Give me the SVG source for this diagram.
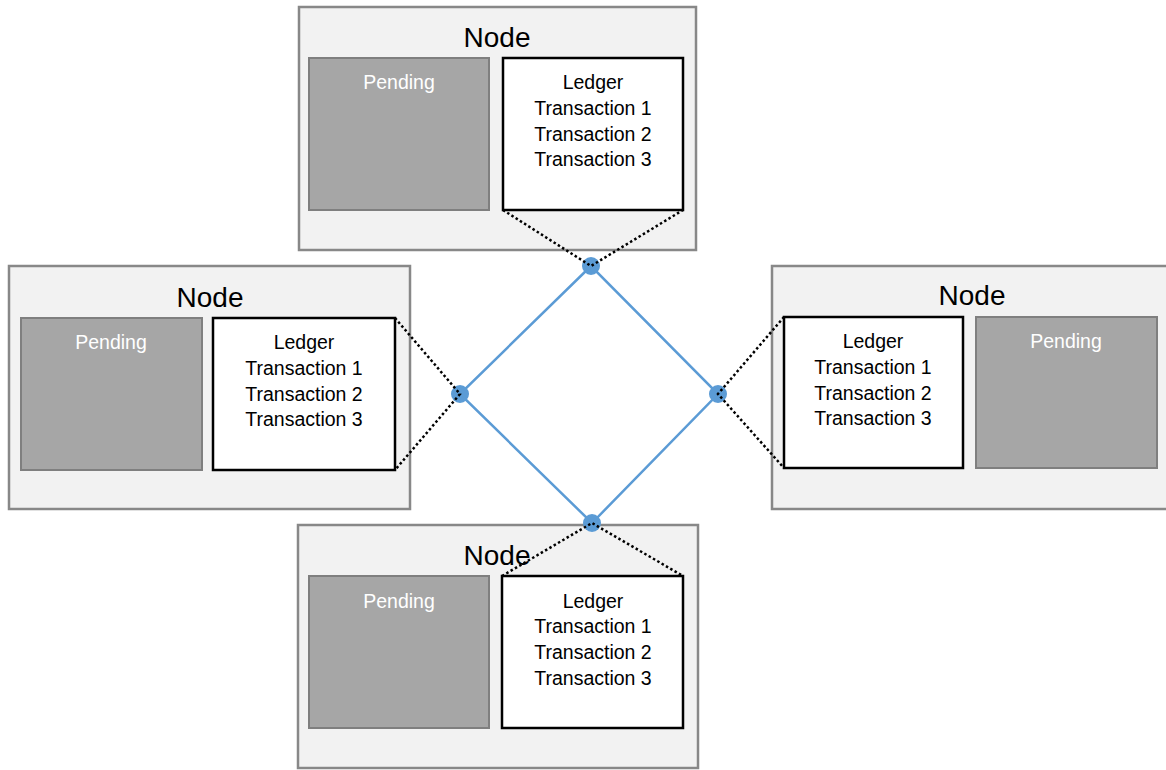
<svg xmlns="http://www.w3.org/2000/svg" width="1166" height="770" viewBox="0 0 1166 770">
<style>
.outer{fill:#F2F2F2;stroke:#888888;stroke-width:2.5}
.pend{fill:#A6A6A6;stroke:#7F7F7F;stroke-width:2}
.ledger{fill:#FFFFFF;stroke:#000000;stroke-width:2.5}
.title{font-family:"Liberation Sans",Arial,sans-serif;font-size:28px;fill:#000;text-anchor:middle}
.pt{font-family:"Liberation Sans",Arial,sans-serif;font-size:19.5px;fill:#FFFFFF;text-anchor:middle}
.lt{font-family:"Liberation Sans",Arial,sans-serif;font-size:19.5px;fill:#000;text-anchor:middle}
.net{stroke:#5B9BD5;stroke-width:2.5;fill:none}
.hub{fill:#5B9BD5}
.dot{stroke:#000;stroke-width:2.5;stroke-dasharray:2.5 2.5;fill:none}
</style>
<rect width="1166" height="770" fill="#FFFFFF"/>
<g id="node-top">
<rect class="outer" x="299" y="7" width="397" height="243"/>
<text class="title" x="497" y="47">Node</text>
<rect class="pend" x="309" y="58" width="180" height="152"/>
<text class="pt" x="399" y="89">Pending</text>
<rect class="ledger" x="503" y="58" width="180" height="152"/>
<text class="lt" x="593" y="89">Ledger</text>
<text class="lt" x="593" y="115">Transaction 1</text>
<text class="lt" x="593" y="141">Transaction 2</text>
<text class="lt" x="593" y="166">Transaction 3</text>
</g>
<g id="node-left">
<rect class="outer" x="9" y="266" width="401" height="243"/>
<text class="title" x="210" y="307">Node</text>
<rect class="pend" x="21" y="318" width="181" height="152"/>
<text class="pt" x="111" y="349">Pending</text>
<rect class="ledger" x="213" y="318" width="182" height="152"/>
<text class="lt" x="304" y="349">Ledger</text>
<text class="lt" x="304" y="375">Transaction 1</text>
<text class="lt" x="304" y="401">Transaction 2</text>
<text class="lt" x="304" y="426">Transaction 3</text>
</g>
<g id="node-right">
<rect class="outer" x="772" y="266" width="400" height="243"/>
<text class="title" x="972" y="305">Node</text>
<rect class="ledger" x="784" y="317" width="179" height="151"/>
<text class="lt" x="873" y="348">Ledger</text>
<text class="lt" x="873" y="374">Transaction 1</text>
<text class="lt" x="873" y="400">Transaction 2</text>
<text class="lt" x="873" y="425">Transaction 3</text>
<rect class="pend" x="976" y="317" width="181" height="151"/>
<text class="pt" x="1066" y="348">Pending</text>
</g>
<g id="node-bottom">
<rect class="outer" x="298" y="525" width="400" height="243"/>
<text class="title" x="497" y="565">Node</text>
<rect class="pend" x="309" y="576" width="180" height="152"/>
<text class="pt" x="399" y="608">Pending</text>
<rect class="ledger" x="502" y="576" width="181" height="152"/>
<text class="lt" x="593" y="608">Ledger</text>
<text class="lt" x="593" y="633">Transaction 1</text>
<text class="lt" x="593" y="659">Transaction 2</text>
<text class="lt" x="593" y="685">Transaction 3</text>
</g>
<g id="connectors">
<path class="net" d="M591,266 L460,394 L592,523 L718,394 Z"/>
<circle class="hub" cx="591" cy="266" r="9"/>
<circle class="hub" cx="460" cy="394" r="9"/>
<circle class="hub" cx="718" cy="394" r="9"/>
<circle class="hub" cx="592" cy="523" r="9"/>
<path class="dot" d="M503,210 L591,266 L683,210"/>
<path class="dot" d="M395,318 L460,394 L395,470"/>
<path class="dot" d="M784,317 L718,394 L784,468"/>
<path class="dot" d="M502,576 L592,523 L683,576"/>
</g>
</svg>
